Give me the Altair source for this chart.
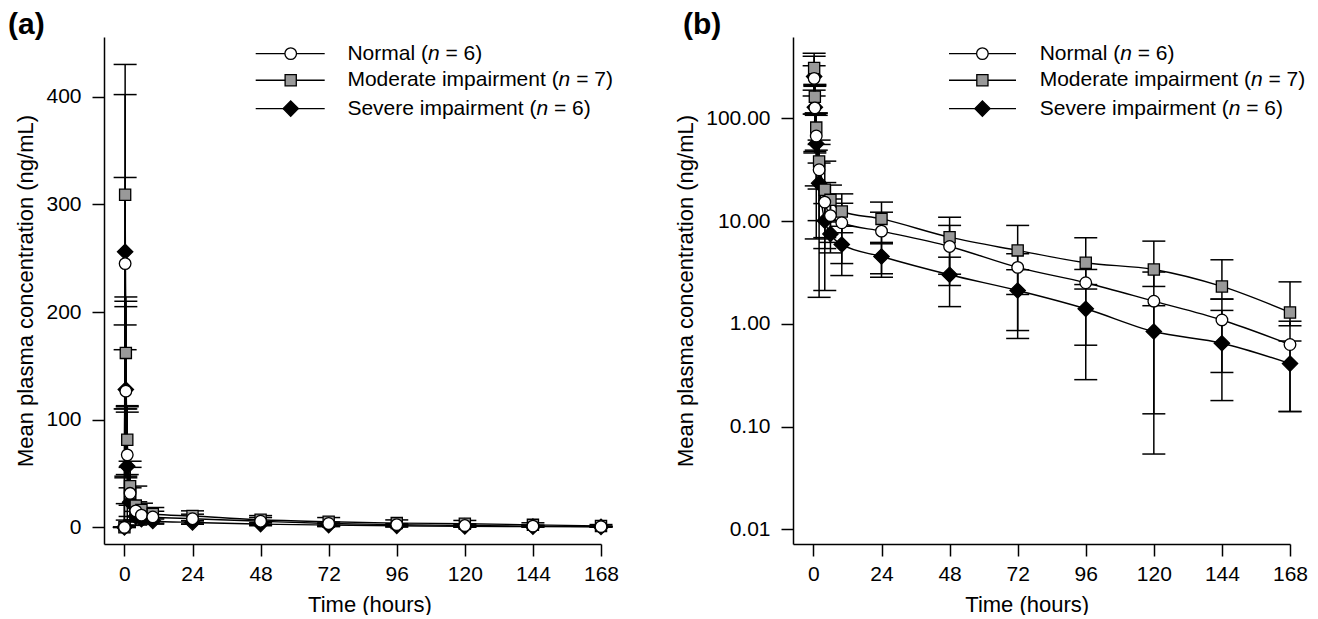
import altair as alt
import pandas as pd

FONT = "Liberation Sans"

# ---------------- data ----------------
groups = ["Normal", "Moderate impairment", "Severe impairment"]
group_n = ["6", "7", "6"]
panel_labels = ["(a)", "(b)"]

time_h = [0, 0.25, 0.5, 1, 2, 4, 6, 10, 24, 48, 72, 96, 120, 144, 168]

normal_mean = [0, 245, 126.5, 67.3, 31.6, 15.3, 11.3, 9.63, 7.98, 5.66, 3.54, 2.51, 1.66, 1.09, 0.629]
normal_lo = [0, 165, 47.5, 22, 1.81, 6.9, 6.2, 3.86, 3.07, 2.36, 0.72, 0.286, 0.133, 0.336, 0.14]
normal_hi = [0, 325, 205, 112, 61.4, 23.7, 16.4, 14.9, 12.2, 9.07, 4.81, 3.38, 3.19, 1.74, 1.06]

moderate_mean = [0, 309, 162, 81.3, 38.1, 20.2, 16.1, 12.4, 10.5, 6.97, 5.18, 3.93, 3.38, 2.31, 1.29]
moderate_lo = [0, 188, 110, 49, 20.5, 2.11, 9.8, 7.7, 6.01, 3.04, 1.93, 2.41, 2.31, 1.74, 0.957]
moderate_hi = [0, 430, 214, 113, 55.7, 38.3, 22.4, 18.4, 15.3, 10.9, 9.07, 6.88, 6.38, 4.2, 2.56]

severe_mean = [0, 256, 128, 56.7, 23.4, 10.1, 7.5, 5.92, 4.52, 3.0, 2.11, 1.40, 0.841, 0.647, 0.41]
severe_lo = [0, 110, 46, 6.7, 10.1, 5.4, 4.9, 2.95, 2.84, 1.47, 0.86, 0.619, 0.054, 0.179, 0.14]
severe_hi = [0, 402, 210, 107, 36.7, 14.8, 10.1, 8.9, 6.2, 4.45, 3.36, 2.18, 1.50, 1.35, 0.68]

x_ticks = [0, 24, 48, 72, 96, 120, 144, 168]
lin_ticks = [0, 100, 200, 300, 400]
log_ticks = [0.01, 0.1, 1, 10, 100]

# ---------------- styling ----------------
shapes = {"Normal": "circle", "Moderate impairment": "square", "Severe impairment": "diamond"}
fills = {"Normal": "white", "Moderate impairment": "#999999", "Severe impairment": "black"}
sizes = {"Normal": 135, "Moderate impairment": 125, "Severe impairment": 235}
draw_order = ["Severe impairment", "Moderate impairment", "Normal"]

series = {
    "Normal": (normal_mean, normal_lo, normal_hi),
    "Moderate impairment": (moderate_mean, moderate_lo, moderate_hi),
    "Severe impairment": (severe_mean, severe_lo, severe_hi),
}

LW = 1.5
FS = 21

ARIAL = {"N": .722, "M": .833, "S": .667, "o": .556, "r": .333, "m": .833, "a": .556,
         "l": .222, "d": .556, "e": .556, "t": .278, "i": .222, "p": .556, "n": .556,
         "v": .5, " ": .278, "(": .333, ")": .333, "=": .584}


def text_w(s, size):
    return sum(ARIAL.get(c, 0.556) for c in s) * size


def long_df(positive_only):
    rows = []
    for g in draw_order:
        m, lo, hi = series[g]
        for t, a, b, c in zip(time_h, m, lo, hi):
            if positive_only and a <= 0:
                continue
            rows.append({"group": g, "time": t, "mean": a, "lo": b, "hi": c})
    return pd.DataFrame(rows)


def panel(df, yscale, yaxis, label, lab_x, leg_line, leg_mark, leg_text, title_x, W, H):
    xs = alt.Scale(domain=[-7.2, 168], nice=False, zero=False)
    xaxis = alt.Axis(values=x_ticks, title="Time (hours)", titleX=title_x, titleAlign="center",
                     labelFlush=False, grid=False)
    X = alt.X("time:Q", scale=xs, axis=xaxis)
    Y = lambda f: alt.Y(f, scale=yscale, axis=yaxis)
    base = alt.Chart(df)

    lines = base.mark_line(color="black", strokeWidth=1.4, interpolate="monotone").encode(
        x=X, y=Y("mean:Q"), detail="group:N")
    bars = base.mark_rule(color="black", strokeWidth=LW).encode(x=X, y=Y("lo:Q"), y2="hi:Q")
    cap_lo = base.mark_tick(orient="horizontal", size=23, thickness=LW, color="black",
                            opacity=1).encode(x=X, y=Y("lo:Q"))
    cap_hi = base.mark_tick(orient="horizontal", size=23, thickness=LW, color="black",
                            opacity=1).encode(x=X, y=Y("hi:Q"))
    layers = [lines, bars, cap_lo, cap_hi]
    for g in draw_order:
        layers.append(
            base.transform_filter(alt.datum.group == g).mark_point(
                shape=shapes[g], filled=True, fill=fills[g], stroke="black", strokeWidth=1.3,
                size=sizes[g], opacity=1).encode(x=X, y=Y("mean:Q")))

    # legend
    rows_y = [16.6, 43.3, 71.6]
    for i, g in enumerate(groups):
        ry = rows_y[i]
        ldf = pd.DataFrame({"pre": [g + " ("], "n": ["n"], "suf": ["= " + group_n[i] + ")"]})
        lc = alt.Chart(ldf)
        layers.append(lc.mark_rule(color="black", strokeWidth=1.4).encode(
            x=alt.value(leg_line[0]), x2=alt.value(leg_line[1]), y=alt.value(ry)))
        layers.append(lc.mark_point(shape=shapes[g], filled=True, fill=fills[g], stroke="black",
                                    strokeWidth=1.3, size=sizes[g], opacity=1).encode(
            x=alt.value(leg_mark), y=alt.value(ry)))
        x0 = leg_text
        x1 = x0 + text_w(g + " (", FS)
        x2 = x1 + text_w("n ", FS)
        layers.append(lc.mark_text(align="left", baseline="middle", font=FONT, fontSize=FS,
                                   color="black").encode(x=alt.value(x0), y=alt.value(ry), text="pre:N"))
        layers.append(lc.mark_text(align="left", baseline="middle", font=FONT, fontSize=FS,
                                   fontStyle="italic", color="black").encode(
            x=alt.value(x1), y=alt.value(ry), text="n:N"))
        layers.append(lc.mark_text(align="left", baseline="middle", font=FONT, fontSize=FS,
                                   color="black").encode(x=alt.value(x2), y=alt.value(ry), text="suf:N"))

    layers.append(alt.Chart(pd.DataFrame({"lab": [label]})).mark_text(
        align="left", baseline="alphabetic", font=FONT, fontSize=30, fontWeight="bold",
        color="black").encode(x=alt.value(lab_x), y=alt.value(-3), text="lab:N"))

    return alt.layer(*layers).properties(width=W, height=H)


ytitle = "Mean plasma concentration (ng/mL)"

lin_scale = alt.Scale(domain=[-15.5, 455.5], nice=False, zero=False)
lin_axis = alt.Axis(values=lin_ticks, title=ytitle, labelFlush=False, grid=False)
log_scale = alt.Scale(type="log", domain=[0.00719, 619], nice=False)
log_axis = alt.Axis(values=log_ticks, format=".2f", title=ytitle, labelFlush=False, grid=False)

W, H = 497, 507

pa = panel(long_df(False), lin_scale, lin_axis, panel_labels[0], -96,
           (151.7, 220.7), 186.7, 243.4, 265.5, W, H)
pb = panel(long_df(True), log_scale, log_axis, panel_labels[1], -110,
           (156, 223), 189.4, 246.7, 233.7, W, H)

chart = alt.hconcat(pa, pb, spacing=55).configure(
    padding={"left": 0, "top": 2, "right": 0, "bottom": 0}, font=FONT
).configure_view(stroke=None).configure_axis(
    domainColor="black", domainWidth=LW, tickColor="black", tickWidth=LW, tickSize=12,
    labelFont=FONT, labelFontSize=FS, labelColor="black",
    titleFont=FONT, titleFontSize=22, titleFontWeight="normal", titleColor="black", grid=False
).configure_axisX(labelPadding=7, titlePadding=10).configure_axisY(labelPadding=11, titlePadding=8)

chart.save("out.html", embed_options={"renderer": "svg", "actions": False})
